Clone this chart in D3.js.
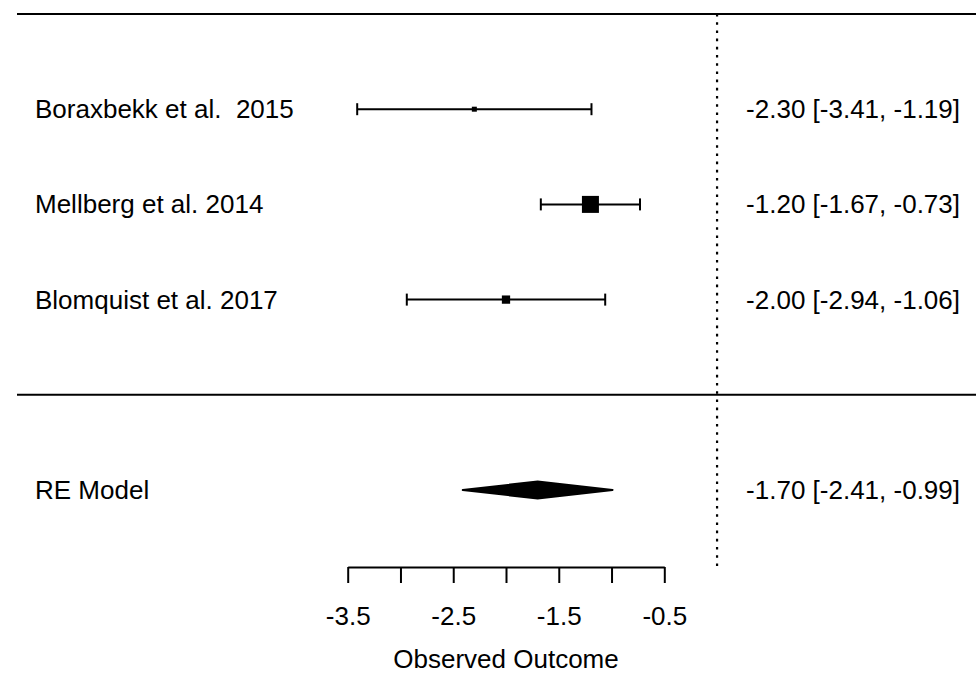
<!DOCTYPE html>
<html>
<head>
<meta charset="utf-8">
<script src="https://cdn.jsdelivr.net/npm/d3@7"></script>
<style>
  html, body { margin: 0; padding: 0; background: #fff; }
  svg { display: block; }
  text { font-family: "Liberation Sans", Arial, sans-serif; fill: #000; white-space: pre; }
</style>
</head>
<body>
<svg id="chart" width="976" height="675"></svg>
<script>
// ---- data ----
const studies = ["Boraxbekk et al.  2015", "Mellberg et al. 2014", "Blomquist et al. 2017"];
const estimates = [-2.30, -1.20, -2.00];
const lower = [-3.41, -1.67, -2.94];
const upper = [-1.19, -0.73, -1.06];
const weights = [24, 46, 30];           // relative (RE) weights
const summaryLabel = "RE Model";
const summary = { est: -1.70, lb: -2.41, ub: -0.99 };
const tickValues = [-3.5, -3.0, -2.5, -2.0, -1.5, -1.0, -0.5];
const tickLabels = ["-3.5", "", "-2.5", "", "-1.5", "", "-0.5"];
const xTitle = "Observed Outcome";

// ---- layout ----
const W = 976, H = 675;
const svg = d3.select("#chart");
const fontSize = 26;

const x = d3.scaleLinear().domain([-3.5, -0.5]).range([347.7, 664.3]);
const k = studies.length;
// rows: studies at k..1, separator at 0, summary at -1, top border at k+1
const y = d3.scaleLinear().domain([k + 1, -1]).range([14, 490]);
const size = d3.scaleLinear().domain(d3.extent(weights)).range([5, 17]);

const axisY = 567;
const loc = d3.formatLocale({ decimal: ".", thousands: ",", grouping: [3], currency: ["", ""], minus: "-" });
const fmt = loc.format(".2f");
const ciText = (e, l, u) => `${fmt(e)} [${fmt(l)}, ${fmt(u)}]`;

// horizontal rules (top border and separator)
svg.selectAll("line.rule").data([k + 1, 0]).join("line")
  .attr("class", "rule")
  .attr("x1", 17).attr("x2", W)
  .attr("y1", d => y(d)).attr("y2", d => y(d))
  .attr("stroke", "#000").attr("stroke-width", 2);

// reference line at 0
svg.append("line")
  .attr("x1", x(0)).attr("x2", x(0))
  .attr("y1", y(k + 1)).attr("y2", axisY)
  .attr("stroke", "#000").attr("stroke-width", 2.2)
  .attr("stroke-dasharray", "2.6,5.6");

const rows = studies.map((s, i) => ({
  name: s, est: estimates[i], lb: lower[i], ub: upper[i], w: weights[i], row: k - i
}));

const g = svg.append("g");
// CI lines
g.selectAll("line.ci").data(rows).join("line")
  .attr("class", "ci")
  .attr("x1", d => x(d.lb)).attr("x2", d => x(d.ub))
  .attr("y1", d => y(d.row)).attr("y2", d => y(d.row))
  .attr("stroke", "#000").attr("stroke-width", 2);
// caps
["lb", "ub"].forEach(key => {
  g.selectAll("line.cap-" + key).data(rows).join("line")
    .attr("class", "cap-" + key)
    .attr("x1", d => x(d[key])).attr("x2", d => x(d[key]))
    .attr("y1", d => y(d.row) - 6).attr("y2", d => y(d.row) + 6)
    .attr("stroke", "#000").attr("stroke-width", 2);
});
// boxes
g.selectAll("rect.box").data(rows).join("rect")
  .attr("class", "box")
  .attr("x", d => x(d.est) - size(d.w) / 2)
  .attr("y", d => y(d.row) - size(d.w) / 2)
  .attr("width", d => size(d.w)).attr("height", d => size(d.w))
  .attr("fill", "#000");

// summary diamond
const dy = y(-1), dh = 8.5;
svg.append("polygon")
  .attr("points", [
    [x(summary.lb), dy], [x(summary.est), dy - dh],
    [x(summary.ub), dy], [x(summary.est), dy + dh]
  ].map(p => p.join(",")).join(" "))
  .attr("fill", "#000").attr("stroke", "#000").attr("stroke-width", 2)
  .attr("stroke-linejoin", "round");

// left labels
const labelRows = rows.map(d => ({ text: d.name, row: d.row }))
  .concat([{ text: summaryLabel, row: -1 }]);
svg.selectAll("text.lab").data(labelRows).join("text")
  .attr("class", "lab")
  .attr("x", 35).attr("y", d => y(d.row) + 9)
  .attr("font-size", fontSize)
  .text(d => d.text);

// right labels
const rightRows = rows.map(d => ({ text: ciText(d.est, d.lb, d.ub), row: d.row }))
  .concat([{ text: ciText(summary.est, summary.lb, summary.ub), row: -1 }]);
svg.selectAll("text.rlab").data(rightRows).join("text")
  .attr("class", "rlab")
  .attr("x", 960).attr("y", d => y(d.row) + 9)
  .attr("text-anchor", "end")
  .attr("font-size", fontSize)
  .text(d => d.text);

// x axis
const axis = d3.axisBottom(x)
  .tickValues(tickValues)
  .tickSize(16)
  .tickPadding(0)
  .tickSizeOuter(0)
  .tickFormat((d, i) => tickLabels[i]);
const ax = svg.append("g").attr("transform", `translate(0,${axisY})`).call(axis);
ax.select(".domain").attr("stroke", "#000").attr("stroke-width", 2);
ax.selectAll(".tick line").attr("stroke", "#000").attr("stroke-width", 2);
ax.selectAll(".tick text")
  .attr("y", 57.5).attr("dy", null)
  .attr("font-size", fontSize)
  .attr("font-family", '"Liberation Sans", Arial, sans-serif')
  .attr("fill", "#000");

svg.append("text")
  .attr("x", (x(-3.5) + x(-0.5)) / 2).attr("y", 668)
  .attr("text-anchor", "middle")
  .attr("font-size", fontSize)
  .text(xTitle);
</script>
</body>
</html>
